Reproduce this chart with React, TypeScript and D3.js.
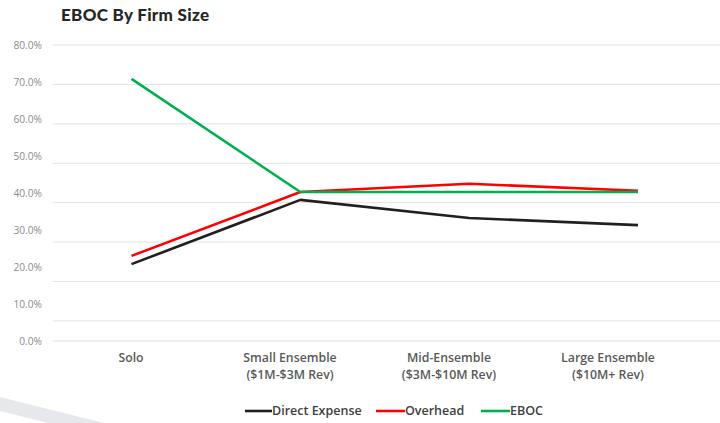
import React from "react";
import * as d3 from "d3";

const categories = ["Solo", "Small Ensemble", "Mid-Ensemble", "Large Ensemble"];
const categoryLines: string[][] = [
  ["Solo"],
  ["Small Ensemble", "($1M-$3M Rev)"],
  ["Mid-Ensemble", "($3M-$10M Rev)"],
  ["Large Ensemble", "($10M+ Rev)"],
];
const directExpense = [24.4, 40.7, 36.1, 34.3];
const overhead = [26.5, 42.7, 44.8, 43.0];
const eboc = [71.4, 42.7, 42.7, 42.7];
const yTicks = [0, 10, 20, 30, 40, 50, 60, 70, 80];

const seriesList = [
  { name: "Direct Expense", values: directExpense, color: "#231f20" },
  { name: "Overhead", values: overhead, color: "#ff0000" },
  { name: "EBOC", values: eboc, color: "#00b050" },
];

const W = 720;
const H = 423;

export default function App() {
  // scale for data marks and gridlines
  const x = d3.scalePoint<string>().domain(categories).range([131.5, 638]);
  const y = d3.scaleLinear().domain([0, 80]).range([360.3, 45]);
  // scales for the (slightly differently scaled) axis labels
  const xLabel = d3.scalePoint<string>().domain(categories).range([131, 608]);
  const yLabel = d3.scaleLinear().domain([0, 80]).range([341, 45]);

  const line = d3
    .line<number>()
    .x((_, i) => x(categories[i]) as number)
    .y((d) => y(d));

  const font = "'Open Sans', 'DejaVu Sans', sans-serif";

  const legendItems = [
    { x0: 245, w: 27 },
    { x0: 376, w: 29 },
    { x0: 481, w: 29 },
  ];

  return (
    <svg
      width={W}
      height={H}
      style={{ position: "absolute", left: 0, top: 0, background: "#fff" }}
    >
      <rect x={0} y={0} width={W} height={H} fill="#fff" />
      {/* decorative band */}
      <polygon points="0,397 104,423 48,423 0,411" fill="#e6e8ec" />
      <text
        x={61}
        y={20.5}
        fontFamily="Lato, 'Open Sans', sans-serif"
        fontWeight={900}
        fontSize={17}
        fill="#262626"
        letterSpacing={0.3}
      >
        EBOC By Firm Size
      </text>
      {/* gridlines */}
      {yTicks
        .filter((t) => t > 0)
        .map((t) => (
          <line
            key={t}
            x1={52.7}
            x2={W}
            y1={y(t)}
            y2={y(t)}
            stroke="#e3e3e3"
            strokeWidth={1}
          />
        ))}
      <line
        x1={52.7}
        x2={W}
        y1={yLabel(0)}
        y2={yLabel(0)}
        stroke="#e0e0e0"
        strokeWidth={1}
      />
      {/* y labels */}
      {yTicks.map((t) => (
        <text
          key={t}
          x={42}
          y={yLabel(t)}
          dy="0.35em"
          textAnchor="end"
          fontFamily={font}
          fontSize={10.2}
          fill="#8c8c8c"
        >
          {t.toFixed(1) + "%"}
        </text>
      ))}
      {/* x labels */}
      {categories.map((c, i) => (
        <text
          key={c}
          x={xLabel(c)}
          y={362}
          textAnchor="middle"
          fontFamily={font}
          fontWeight={600}
          fontSize={12.3}
          fill="#595959"
        >
          {categoryLines[i].map((ln, j) => (
            <tspan key={j} x={xLabel(c)} dy={j === 0 ? 0 : 17}>
              {ln}
            </tspan>
          ))}
        </text>
      ))}
      {/* lines */}
      {seriesList.map((s) => (
        <path
          key={s.name}
          d={line(s.values) as string}
          fill="none"
          stroke={s.color}
          strokeWidth={2.6}
          strokeLinejoin="round"
        />
      ))}
      {/* legend */}
      {seriesList.map((s, i) => (
        <g key={s.name}>
          <line
            x1={legendItems[i].x0}
            x2={legendItems[i].x0 + legendItems[i].w}
            y1={411}
            y2={411}
            stroke={s.color}
            strokeWidth={2.6}
          />
          <text
            x={legendItems[i].x0 + legendItems[i].w}
            y={411}
            dy="0.35em"
            fontFamily={font}
            fontWeight={600}
            fontSize={12.5}
            fill="#404040"
          >
            {s.name}
          </text>
        </g>
      ))}
    </svg>
  );
}
